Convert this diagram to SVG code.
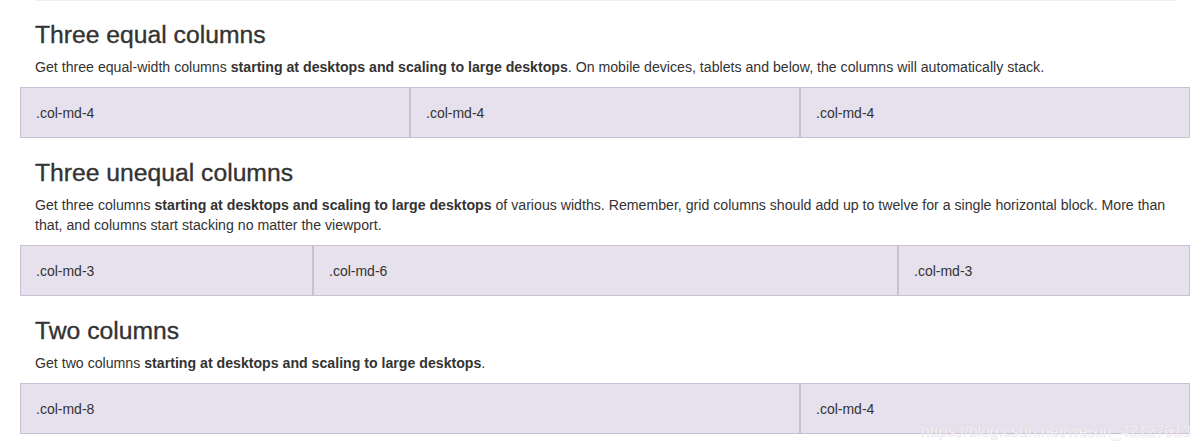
<svg xmlns="http://www.w3.org/2000/svg" width="1203" height="447" viewBox="0 0 1203 447">
<style>
.h{font-family:"Liberation Sans",Arial,sans-serif;font-size:24.7px;fill:#333;stroke:#333;stroke-width:0.35;}
.p{font-family:"Liberation Sans",Arial,sans-serif;font-size:14.15px;fill:#333;}
.b{font-weight:bold;}
.col{fill:#e6e1ec;stroke:#c9c0d6;stroke-width:1;}
.t{font-family:"Liberation Sans",Arial,sans-serif;font-size:14px;fill:#333;}
.wm{font-family:"Liberation Sans",Arial,sans-serif;font-size:16px;fill:#ffffff;fill-opacity:0.9;stroke:#c4bfca;stroke-width:0.5;stroke-opacity:0.5;}
</style>
<rect x="0" y="0" width="1203" height="447" fill="#fff"/>
<line x1="35" y1="0.5" x2="1175" y2="0.5" stroke="#eee" stroke-width="1"/>

<g id="section1">
<text class="h" x="35" y="43">Three equal columns</text>
<text class="p" x="35" y="72">Get three equal-width columns <tspan class="b">starting at desktops and scaling to large desktops</tspan>. On mobile devices, tablets and below, the columns will automatically stack.</text>
</g>
<g id="row1-col1"><rect class="col" x="20.5" y="87.5" width="389" height="50"/><text class="t" x="36" y="118">.col-md-4</text></g>
<g id="row1-col2"><rect class="col" x="410.5" y="87.5" width="389" height="50"/><text class="t" x="426" y="118">.col-md-4</text></g>
<g id="row1-col3"><rect class="col" x="800.5" y="87.5" width="389" height="50"/><text class="t" x="816" y="118">.col-md-4</text></g>

<g id="section2">
<text class="h" x="35" y="181">Three unequal columns</text>
<text class="p" x="35" y="210">Get three columns <tspan class="b">starting at desktops and scaling to large desktops</tspan> of various widths. Remember, grid columns should add up to twelve for a single horizontal block. More than</text>
<text class="p" x="35" y="230">that, and columns start stacking no matter the viewport.</text>
</g>
<g id="row2-col1"><rect class="col" x="20.5" y="245.5" width="292" height="50"/><text class="t" x="36" y="276">.col-md-3</text></g>
<g id="row2-col2"><rect class="col" x="313.5" y="245.5" width="584" height="50"/><text class="t" x="329" y="276">.col-md-6</text></g>
<g id="row2-col3"><rect class="col" x="898.5" y="245.5" width="291" height="50"/><text class="t" x="914" y="276">.col-md-3</text></g>

<g id="section3">
<text class="h" x="35" y="339">Two columns</text>
<text class="p" x="35" y="368">Get two columns <tspan class="b">starting at desktops and scaling to large desktops</tspan>.</text>
</g>
<g id="row3-col1"><rect class="col" x="20.5" y="383.5" width="779" height="50"/><text class="t" x="36" y="414">.col-md-8</text></g>
<g id="row3-col2"><rect class="col" x="800.5" y="383.5" width="389" height="50"/><text class="t" x="816" y="414">.col-md-4</text></g>

<g id="connectors"></g>
<text class="wm" x="921" y="437" textLength="270" lengthAdjust="spacingAndGlyphs">https://blog.csdn.net/weixin_42127613</text>
</svg>
